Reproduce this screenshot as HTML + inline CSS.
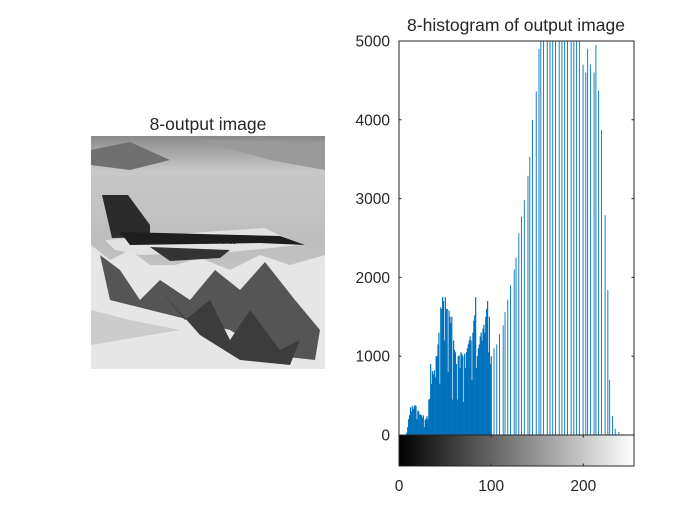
<!DOCTYPE html>
<html><head><meta charset="utf-8"><style>
body{margin:0;background:#fff;}
svg{display:block;font-family:"Liberation Sans",sans-serif;}
</style></head><body>
<svg id="fig" width="700" height="525" viewBox="0 0 700 525">
<rect width="700" height="525" fill="#fff"/>
<g>
<text x="208" y="130" font-size="17.5" text-anchor="middle" fill="#262626">8-output image</text>
<defs>
<linearGradient id="sky" x1="0" y1="0" x2="0" y2="1">
<stop offset="0" stop-color="#8a8a8a"/><stop offset="0.15" stop-color="#c8c8c8"/><stop offset="0.45" stop-color="#bdbdbd"/><stop offset="1" stop-color="#d8d8d8"/></linearGradient>
<linearGradient id="cb" x1="0" y1="0" x2="1" y2="0"><stop offset="0" stop-color="#000"/><stop offset="1" stop-color="#fff"/></linearGradient>
</defs>
<g>
<rect x="91" y="136" width="234" height="233" fill="url(#sky)"/>
<path d="M91 150 L130 142 L170 160 L130 170 L91 165Z" fill="#707070"/>
<path d="M200 140 L325 142 L325 170 L270 160Z" fill="#9a9a9a"/>
<path d="M91 245 L110 260 L130 250 L150 265 L175 265 L200 258 L230 270 L260 255 L290 265 L325 255 L325 369 L91 369Z" fill="#e6e6e6"/>
<path d="M100 255 L120 270 L140 300 L160 280 L190 300 L215 270 L240 290 L265 262 L295 300 L320 330 L315 360 L270 355 L230 330 L190 320 L150 310 L110 300Z" fill="#555"/>
<path d="M160 290 L185 320 L210 300 L230 340 L250 310 L280 350 L300 340 L290 365 L240 360 L200 335Z" fill="#3c3c3c"/>
<path d="M91 310 L130 320 L180 330 L91 345Z" fill="#ccc"/>
<path d="M102 195 L128 195 L150 225 L150 237 L112 238Z" fill="#2b2b2b"/>
<path d="M105 240 L205 232 L265 228 L300 245 L230 252 L140 255 L115 250Z" fill="#e2e2e2"/>
<path d="M120 232 L280 236 L305 245 L260 243 L130 245Z" fill="#1e1e1e"/>
<path d="M150 247 L230 250 L220 258 L170 261Z" fill="#333"/>
<text x="199" y="244" font-size="5" fill="#222">U.S.AIR FORCE</text>
</g>
</g>
<g>
<text x="516" y="31" font-size="17.5" text-anchor="middle" fill="#262626">8-histogram of output image</text>
<g id="bars"></g>
<rect x="399" y="435" width="235" height="31" fill="url(#cb)" stroke="#262626" stroke-width="1"/>
<rect x="399" y="41" width="235" height="394" fill="none" stroke="#262626" stroke-width="1"/>
<g id="ticks"></g>
</g>
</svg>
<script>
const denseCounts=[0,0,0,0,0,0,0,0,30,100,200,250,350,300,370,330,360,380,370,200,310,300,260,260,250,220,250,100,190,210,240,200,450,460,900,650,810,770,820,730,1000,1000,1150,1300,650,1620,1600,1750,1700,1200,1750,1600,1600,800,1580,1500,1420,1500,450,1200,1080,1050,900,450,1000,1010,850,1050,1030,1000,420,1030,850,1050,1100,1150,1200,1250,1200,700,1300,1450,1520,1750,850,1000,1100,1150,1250,1300,1200,1350,1400,1300,1500,1600,1700,1050,1500,900,1000];
const sparseBins=[103,106,109,113,115,118,121,125,127,130,133,136,140,142,145,149,152,154,157,161,164,167,170,174,177,180,183,187,190,193,196,200,203,205,208,212,214,217,220,224,227,229,232,235,239,244];
const sparseCounts=[1100,1150,1280,1390,1560,1720,1900,2100,2250,2560,2770,2980,3290,3530,4000,4360,4900,5500,5800,6000,6200,6300,6300,6200,6100,6000,5900,5800,5600,5400,5200,4700,4600,4900,4700,4600,4950,4370,3870,2790,1840,700,240,80,40,10];
const yTicks=[0,1000,2000,3000,4000,5000];
const xTicks=[0,100,200];
const NS="http://www.w3.org/2000/svg";
const X0=399,X1=634,Y0=435,Y1=41,YMAX=5000;
const xs=v=>X0+(v+0.5)*(X1-X0)/256;
const xt=v=>X0+v*(X1-X0)/255;
const ys=v=>Y0-Math.min(v,YMAX)*(Y0-Y1)/YMAX;
const bars=document.getElementById('bars');
function bar(b,c,w){
 if(c<=0)return;
 const r=document.createElementNS(NS,'rect');
 
 
 r.setAttribute('x',xs(b)-w/2);r.setAttribute('y',ys(c));
 r.setAttribute('width',w);r.setAttribute('height',Y0-ys(c));
 r.setAttribute('fill','#0072bd');bars.appendChild(r);
}
denseCounts.forEach((c,i)=>bar(i,c,1.2));
sparseBins.forEach((b,i)=>bar(b,sparseCounts[i],0.9));
const tk=document.getElementById('ticks');
function add(tag,attrs,txt){const e=document.createElementNS(NS,tag);for(const k in attrs)e.setAttribute(k,attrs[k]);if(txt!==undefined)e.textContent=txt;tk.appendChild(e);return e;}
yTicks.forEach(v=>{
 const y=ys(v);
 const l=add('path',{d:`M${X0} ${y}h2.5M${X1} ${y}h-2.5`,stroke:'#262626','stroke-width':1});
 
 
 const t=add('text',{x:X0-9,y:y+5.5,'font-size':15.5,'text-anchor':'end',fill:'#262626'},v);
 
 
});
xTicks.forEach(v=>{
 const x=xt(v);
 const l=add('path',{d:`M${x} 466v-2.5M${x} 435v2.5`,stroke:'#262626','stroke-width':1});
 
 
 const t=add('text',{x:x,y:491,'font-size':15.5,'text-anchor':'middle',fill:'#262626'},v);
 
 
});
</script>
</body></html>
